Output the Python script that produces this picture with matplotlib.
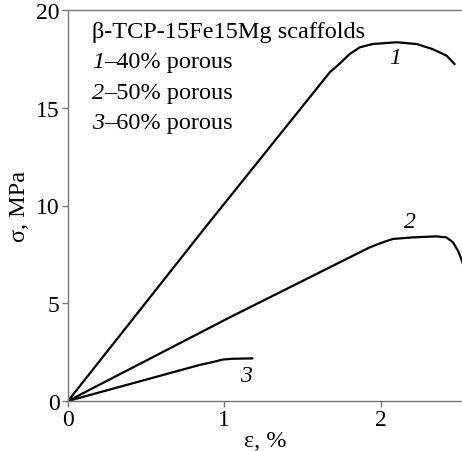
import matplotlib
matplotlib.use("Agg")
import matplotlib.pyplot as plt

# curve 1 - 40% porous
eps1 = [0, 0.89, 1.674, 1.738, 1.802, 1.866, 1.949, 2.102, 2.230, 2.332, 2.422, 2.473]
sig1 = [0, 9.0, 16.81, 17.26, 17.75, 18.09, 18.26, 18.35, 18.26, 18.0, 17.66, 17.23]
# curve 2 - 50% porous
eps2 = [0, 1.04, 1.930, 2.015, 2.079, 2.206, 2.356, 2.420, 2.462, 2.494, 2.516, 2.53]
sig2 = [0, 4.3, 7.86, 8.12, 8.29, 8.37, 8.42, 8.37, 8.12, 7.69, 7.26, 6.9]
# curve 3 - 60% porous
eps3 = [0, 0.84, 0.93, 0.99, 1.05, 1.18]
sig3 = [0, 1.84, 2.0, 2.12, 2.16, 2.18]

legend_lines = [("1", "–40% porous"), ("2", "–50% porous"), ("3", "–60% porous")]

plt.rcParams['font.family'] = ['Liberation Serif', 'DejaVu Serif']

fig = plt.figure(figsize=(4.62, 4.52), dpi=100)
ax = fig.add_axes([68 / 462, 50 / 452, 1 - 68 / 462, 391 / 452])

for e, s in [(eps1, sig1), (eps2, sig2), (eps3, sig3)]:
    ax.plot(e, s, color='black', lw=1.6, solid_capstyle='round',
            solid_joinstyle='round')

ax.set_xlim(0, 2.52)
ax.set_ylim(0, 20)
ax.set_xticks([0, 1, 2])
ax.set_yticks([0, 5, 10, 15, 20])
ax.tick_params(direction='out', length=4, width=1, color='#777777',
               labelsize=17, pad=2)
for sp in ['left', 'bottom', 'top']:
    ax.spines[sp].set_color('#777777')
    ax.spines[sp].set_linewidth(1.0)
ax.spines['right'].set_visible(False)

ax.set_xlabel("ε, %", fontsize=17.5, labelpad=0)
ax.set_ylabel("σ, MPa", fontsize=17.5, labelpad=4)

# curve numbers
ax.text(2.09, 17.55, "1", style='italic', fontsize=17, ha='center', va='center')
ax.text(2.19, 9.2, "2", style='italic', fontsize=17, ha='center', va='center')
ax.text(1.14, 1.28, "3", style='italic', fontsize=17, ha='center', va='center')

# legend text block
ax.text(0.061, 0.931, "β-TCP-15Fe15Mg scaffolds", transform=ax.transAxes,
        fontsize=17.5, va='baseline')
for i, (num, txt) in enumerate(legend_lines):
    y = 0.931 - (i + 1) * 0.078
    t = ax.text(0.061, y, num, transform=ax.transAxes, fontsize=17.5,
                style='italic', va='baseline')
    ax.annotate(txt, xy=(1, 0), xycoords=t, fontsize=17.5, va='bottom')

fig.savefig("out.png", dpi=100)
